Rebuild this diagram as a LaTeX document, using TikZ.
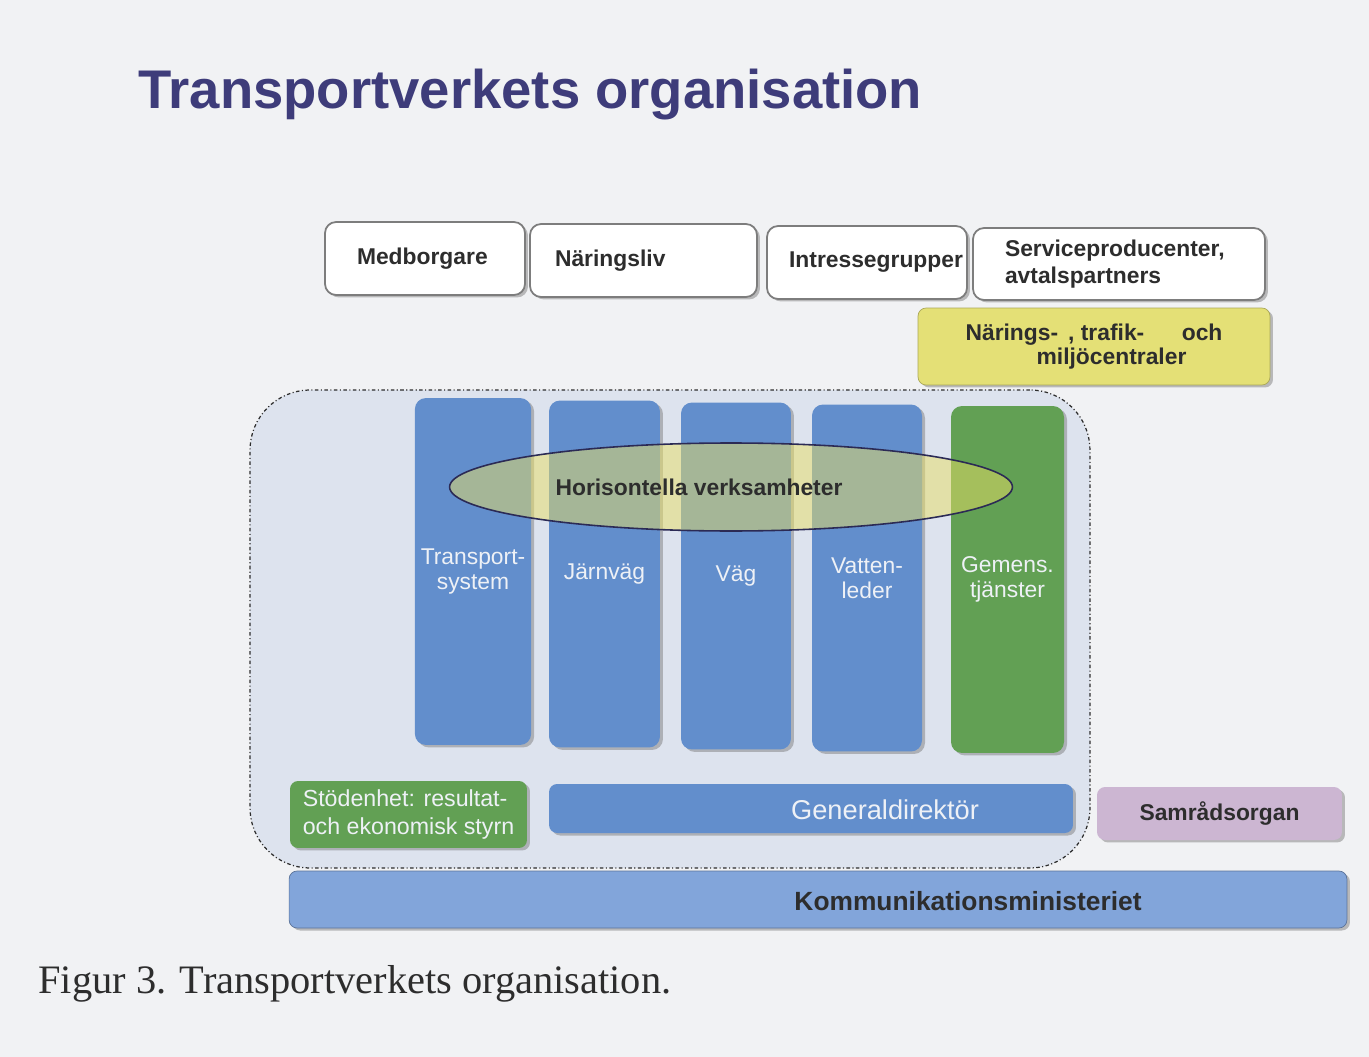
\documentclass[tikz,border=0pt]{standalone}
\usepackage{fontspec}
\setsansfont{Liberation Sans}
\newfontfamily\capfont{Liberation Serif}
\usepackage{color}
\usetikzlibrary{positioning,shapes.geometric,shadows}

\definecolor{bakgrund}{RGB}{241,242,244}
\definecolor{rubrik}{RGB}{62,60,122}
\definecolor{ramgra}{RGB}{125,125,125}
\definecolor{textgra}{RGB}{45,45,45}
\definecolor{gulbox}{RGB}{228,224,118}
\definecolor{ljusbla}{RGB}{221,227,238}
\definecolor{kolumnbla}{RGB}{98,142,204}
\definecolor{kolumngron}{RGB}{98,160,84}
\definecolor{ellipsgul}{RGB}{232,222,100}
\definecolor{lila}{RGB}{204,182,210}
\definecolor{ministerbla}{RGB}{130,165,218}
\definecolor{ljustext}{RGB}{238,241,246}

\tikzset{
  skugga/.style={drop shadow={shadow xshift=0.06cm, shadow yshift=-0.05cm, fill=black!55, opacity=0.45}},
  topbox/.style={draw=ramgra, line width=1pt, fill=white, rounded corners=0.22cm, minimum height=1.46cm,
    font=\sffamily\bfseries\fontsize{13}{15.5}\selectfont, text=textgra, skugga},
  kolumn/.style={fill=kolumnbla, rounded corners=0.22cm, minimum width=2.2cm, minimum height=6.94cm,
    align=center, text=ljustext, font=\sffamily\fontsize{13}{14}\selectfont, skugga},
  fyllbox/.style={rounded corners=0.16cm, inner sep=0pt, skugga},
  fettext/.style={font=\sffamily\bfseries\fontsize{13}{15}\selectfont, text=textgra}
}

\begin{document}
\begin{tikzpicture}[x=0.02cm, y=-0.02cm]

  % Page
  \fill[bakgrund] (0,0) rectangle (1369,1057);
  \useasboundingbox (0,0) rectangle (1369,1057);

  % Title
  \node[anchor=base west, inner sep=0pt, text=rubrik, font=\sffamily\bfseries\fontsize{31}{36}\selectfont] (titel) at (138,109) {Transportverkets organisation};

  % Draw the boxes on top
  \node[topbox, align=left, text width=2.72cm, inner xsep=0.64cm] (medb) at (425,258.5) {Medborgare};
  \node[topbox, align=left, text width=3.54cm, inner xsep=0.5cm] (naer) at (643.5,260.5) {Näringsliv};
  \node[topbox, align=right, text width=3.84cm, inner xsep=0.08cm] (intr) at (867,262.5) {Intressegrupper};
  \node[topbox, align=left, text width=4.56cm, inner xsep=0.64cm, minimum height=1.44cm] (serv) at (1119,264) {Serviceproducenter,\\avtalspartners};
  \node[fyllbox, fettext, fill=gulbox, draw=gulbox!75!black, minimum width=7.04cm, minimum height=1.54cm, align=center, font=\sffamily\bfseries\fontsize{13}{13.6}\selectfont] (ntm) at (1094,346.5) {Närings-\hspace{0.2cm}, trafik-\hspace{0.75cm}och\\\hspace{0.7cm}miljöcentraler};

  % The agency
  \node[draw=textgra, line width=0.7pt, dash pattern=on 2pt off 1.4pt on 0.6pt off 1.4pt, fill=ljusbla, rounded corners=1.2cm, minimum width=16.8cm, minimum height=9.56cm] (verket) at (670,629) {};

  \node[kolumn] (transp) at (473,571.5) {Transport-\\system};
  \node[kolumn, minimum width=2.22cm] (jarnv) at (604.5,574) {Järnväg};
  \node[kolumn] (vag) at (736,576) {Väg};
  \node[kolumn] (vatten) at (867,578) {Vatten-\\leder};
  \node[kolumn, fill=kolumngron, minimum width=2.26cm] (gemens) at (1007.5,579.5) {Gemens.\\tjänster};

  \node[ellipse, draw=rubrik!70!black, line width=0.9pt, fill=ellipsgul, fill opacity=0.5, minimum width=11.26cm, minimum height=1.76cm] (horis) at (731,487) {};
  \node[fettext] (horistext) at ([xshift=-0.64cm]horis.center) {Horisontella verksamheter};

  % Bottom row
  \node[fyllbox, fill=kolumngron, minimum width=4.74cm, minimum height=1.34cm, align=left, text=ljustext, font=\sffamily\fontsize{13.2}{16}\selectfont] (stod) at (408.5,814.5) {Stödenhet: resultat-\\och ekonomisk styrn};
  \node[fyllbox, fill=kolumnbla, minimum width=10.48cm, minimum height=0.98cm] (gd) at (811,808.5) {};
  \node[text=ljustext, font=\sffamily\fontsize{15.5}{18}\selectfont] (gdtext) at (885,810) {Generaldirektör};
  \node[fyllbox, fettext, fill=lila, minimum width=4.9cm, minimum height=1.06cm, drop shadow={opacity=0}] (samr) at (1219.5,813.5) {Samrådsorgan};

  \node[fyllbox, fill=ministerbla, draw=ministerbla!70!black, minimum width=21.16cm, minimum height=1.14cm] (komm) at (818,899.5) {};
  \node[fettext, font=\sffamily\bfseries\fontsize{15}{18}\selectfont] (kommtext) at (968,901) {Kommunikationsministeriet};

  % Caption
  \node[anchor=base west, inner sep=0pt, text=textgra, font=\capfont\fontsize{23}{28}\selectfont] (figurtext) at (38,993) {Figur 3. Transportverkets organisation.};

\end{tikzpicture}
\end{document}
